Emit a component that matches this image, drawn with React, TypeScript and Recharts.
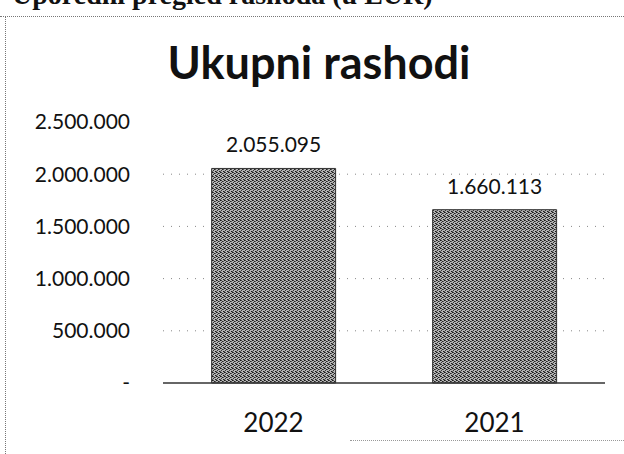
import { Bar, BarChart, CartesianGrid, LabelList, XAxis, YAxis } from 'recharts'

const years = ['2022', '2021']
const expenses = [2055095, 1660113]
const yTicks = [0, 500000, 1000000, 1500000, 2000000, 2500000]
const gridValues = [500000, 1000000, 1500000, 2000000]

const data = years.map((year, i) => ({ year, value: expenses[i] }))

const dots = (n: number) => {
  if (n === 0) return '-'
  return String(Math.round(n)).replace(/\B(?=(\d{3})+(?!\d))/g, '.')
}

const FONT = 'Lato, "Open Sans", sans-serif'

export default function App() {
  return (
    <div style={{ position: 'absolute', left: 0, top: 0, width: 624, height: 454, overflow: 'hidden', background: '#fff' }}>
      <div
        style={{
          position: 'absolute', left: 12, top: -21, whiteSpace: 'nowrap',
          font: 'bold 28px "Liberation Serif", serif', color: '#111',
        }}
      >
        Uporedni pregled rashoda (u EUR)
      </div>
      <div style={{ position: 'absolute', left: 0, top: 16, width: 624, borderTop: '1px dotted #777' }} />
      <div style={{ position: 'absolute', left: 5, top: 16, height: 440, borderLeft: '1px dotted #777' }} />
      <div style={{ position: 'absolute', left: 350, top: 440, width: 274, borderTop: '1px dotted #999' }} />
      <div
        style={{
          position: 'absolute', left: 7, width: 624, top: 35, textAlign: 'center', lineHeight: 1,
          font: `bold 45px ${FONT}`, color: '#111',
        }}
      >
        Ukupni rashodi
      </div>
      <BarChart
        width={624}
        height={454}
        data={data}
        margin={{ top: 122, right: 19, left: 20, bottom: 11 }}
        barCategoryGap="22%"
        style={{ position: 'absolute', left: 0, top: 0 }}
      >
        <defs>
          <pattern id="stipple" width="4" height="4" patternUnits="userSpaceOnUse">
            <rect width="4" height="4" fill="#b4b4b4" />
            <rect x="0" y="0" width="1" height="1" fill="#1a1a1a" />
            <rect x="1" y="0" width="1" height="1" fill="#444" />
            <rect x="2" y="1" width="1" height="1" fill="#222" />
            <rect x="3" y="1" width="1" height="1" fill="#555" />
            <rect x="1" y="2" width="1" height="1" fill="#333" />
            <rect x="3" y="3" width="1" height="1" fill="#1a1a1a" />
            <rect x="0" y="3" width="1" height="1" fill="#555" />
          </pattern>
        </defs>
        <CartesianGrid vertical={false} horizontalValues={gridValues} stroke="#888" strokeDasharray="1 7" />
        <XAxis
          dataKey="year"
          height={60}
          tickLine={false}
          axisLine={{ stroke: '#333', strokeWidth: 1.5 }}
          tickMargin={25}
          tick={{ fontSize: 26, fill: '#111', fontFamily: FONT }}
        />
        <YAxis
          width={143}
          domain={[0, 2500000]}
          ticks={yTicks}
          tickFormatter={dots}
          axisLine={false}
          tickLine={false}
          tickMargin={27}
          tick={{ fontSize: 21, fill: '#111', fontFamily: FONT }}
        />
        <Bar dataKey="value" fill="url(#stipple)" stroke="#333" strokeWidth={1} isAnimationActive={false}>
          <LabelList
            dataKey="value"
            position="top"
            offset={16}
            formatter={(v: any) => dots(v)}
            style={{ fontSize: 21, fill: '#111', fontFamily: FONT }}
          />
        </Bar>
      </BarChart>
    </div>
  )
}
